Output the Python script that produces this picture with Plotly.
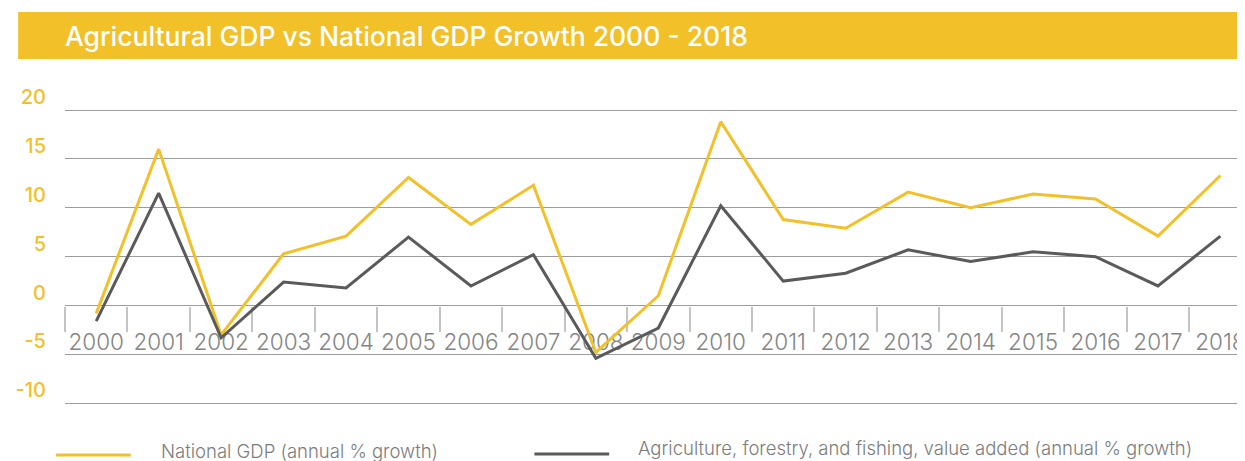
import plotly.graph_objects as go

# ---- data ----
years = ["2000", "2001", "2002", "2003", "2004", "2005", "2006", "2007", "2008", "2009",
         "2010", "2011", "2012", "2013", "2014", "2015", "2016", "2017", "2018"]
national_gdp = [-0.8, 16.0, -3.0, 5.3, 7.1, 13.1, 8.3, 12.3, -4.8, 1.0,
                18.8, 8.8, 7.9, 11.6, 10.0, 11.4, 10.9, 7.1, 13.3]
agri_gdp = [-1.6, 11.5, -3.3, 2.4, 1.8, 7.0, 2.0, 5.2, -5.4, -2.3,
            10.2, 2.5, 3.3, 5.7, 4.5, 5.5, 5.0, 2.0, 7.1]
series_names = ["National GDP (annual % growth)",
                "Agriculture, forestry, and fishing, value added (annual % growth)"]
y_ticks = [-10, -5, 0, 5, 10, 15, 20]
y_ticktext = [str(v) for v in y_ticks]
title_text = "Agricultural GDP vs National GDP Growth 2000 - 2018"

# ---- style ----
YELLOW = "#F2C029"
DARK = "#5a5a5a"
GRID = "#9c9c9c"
OFF = 8  # page body offset of the figure inside the browser window
W, H = 1245, 461
# reference-pixel geometry (window coordinates)
PLOT_L, PLOT_R, PLOT_T, PLOT_B = 64, 1245, 100, 420
ML, MT = PLOT_L - OFF, PLOT_T - OFF
plot_w = PLOT_R - PLOT_L
plot_h = PLOT_B - PLOT_T
MR = W - ML - plot_w
MB = H - MT - plot_h

# y-range so gridline 20 sits at px 110 and -10 at px 403.3
px_per_unit = (403.3 - 110) / 30.0
y_max = 20 + (110 - PLOT_T) / px_per_unit
y_min = -10 - (PLOT_B - 403.3) / px_per_unit
x_step = (1192 - 64) / 18.0
x_max = -0.5 + plot_w / x_step


def px(x):
    return (x - PLOT_L) / plot_w


def py(y):
    return (PLOT_B - y) / plot_h


fig = go.Figure()
fig.add_trace(go.Scatter(x=years, y=national_gdp, mode="lines", name=series_names[0],
                         line=dict(color=YELLOW, width=3)))
fig.add_trace(go.Scatter(x=years, y=agri_gdp, mode="lines", name=series_names[1],
                         line=dict(color=DARK, width=3)))

fig.update_layout(
    width=W, height=H,
    margin=dict(l=ML, r=MR, t=MT, b=MB, pad=0),
    paper_bgcolor="white", plot_bgcolor="white",
    showlegend=False,
    xaxis=dict(
        type="category", range=[-0.5, x_max],
        anchor="free", position=(0 - y_min) / (y_max - y_min),
        showgrid=False, zeroline=False, showline=False,
        ticks="outside", ticklen=25, tickwidth=1.5, tickcolor="#c4c4c4",
        tickson="boundaries", tickangle=0,
        tickfont=dict(family="Inter", size=22.5, color="#858585", weight=300),
        ticklabelstandoff=21,
        layer="below traces",
    ),
    yaxis=dict(
        range=[y_min, y_max], tickvals=y_ticks, ticktext=y_ticktext,
        showgrid=True, gridcolor=GRID, gridwidth=1.2,
        zeroline=False, showline=False, ticks="",
        tickfont=dict(family="Inter", size=20, color=YELLOW, weight=500),
        ticklabelshift=-13, ticklabelstandoff=18,
        layer="below traces",
    ),
)

# title bar
fig.add_shape(type="rect", xref="paper", yref="paper",
              x0=px(17), x1=px(1240), y0=py(59), y1=py(12),
              fillcolor=YELLOW, line=dict(width=0), layer="below")
fig.add_annotation(text=title_text, xref="paper", yref="paper",
                   x=px(62), y=py(36), xanchor="left", yanchor="middle", showarrow=False,
                   font=dict(family="Inter", size=26.5, color="white", weight=500))

# legend (drawn manually to match the long swatches)
legend_items = [
    (55, 130, 455, 158, 451, YELLOW, series_names[0]),
    (535, 610, 454, 637, 448, DARK, series_names[1]),
]
for x0, x1, ly, tx, ty, col, name in legend_items:
    fig.add_shape(type="line", xref="paper", yref="paper",
                  x0=px(x0), x1=px(x1), y0=py(ly), y1=py(ly),
                  line=dict(color=col, width=3))
    fig.add_annotation(text=name, xref="paper", yref="paper",
                       x=px(tx), y=py(ty), xanchor="left", yanchor="middle", showarrow=False,
                       font=dict(family="Inter", size=18.5, color="#7c7c7c", weight=300))

fig.write_html("out.html")
